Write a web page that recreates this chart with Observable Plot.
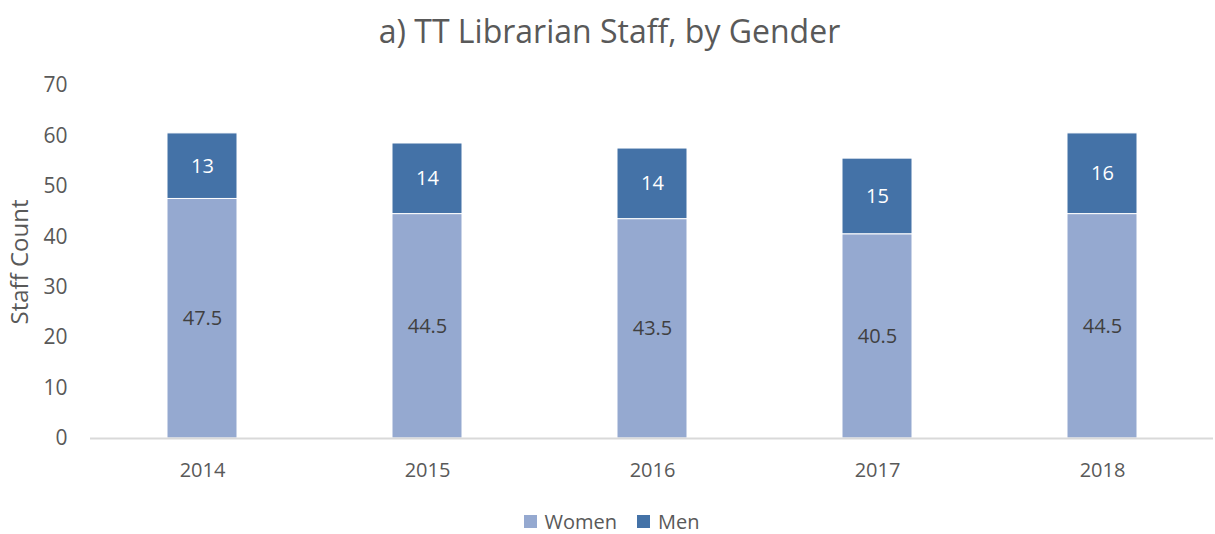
<!DOCTYPE html>
<html>
<head>
<meta charset="utf-8">
<script src="https://cdn.jsdelivr.net/npm/d3@7"></script>
<script src="https://cdn.jsdelivr.net/npm/@observablehq/plot@0.6"></script>
<style>
  html, body { margin: 0; padding: 0; background: #fff; }
  body { width: 1215px; height: 534px; overflow: hidden; font-family: "Open Sans", sans-serif; }
  #title { height: 66px; text-align: center; font-size: 32px; color: #595959; line-height: 62px; padding-left: 4px; }
  #chart svg { display: block; }
  #legend { display: flex; justify-content: center; align-items: center; gap: 20px; font-size: 20px; color: #595959; margin-top: 22px; padding-left: 8px; }
  .item { display: flex; align-items: center; gap: 8px; }
  .sw { width: 13px; height: 13px; display: inline-block; }
</style>
</head>
<body>
<div id="title">a) TT Librarian Staff, by Gender</div>
<div id="chart"></div>
<div id="legend"></div>
<script>
// Tenure-track librarian headcount, split by gender
const years = ["2014", "2015", "2016", "2017", "2018"];
const women = [47.5, 44.5, 43.5, 40.5, 44.5];
const men = [13, 14, 14, 15, 16];
const series = ["Women", "Men"];
const colors = ["#95a9d0", "#4472a7"];
const yTicks = [0, 10, 20, 30, 40, 50, 60, 70];

const rows = years.flatMap((year, i) => [
  {year, gender: "Women", value: women[i]},
  {year, gender: "Men", value: men[i]}
]);

const stackOpts = {x: "year", y: "value", fill: "gender", order: series};

const chart = Plot.plot({
  width: 1215,
  height: 420,
  marginTop: 19,
  marginBottom: 48,
  marginLeft: 90,
  marginRight: 2,
  style: {fontFamily: "Open Sans, sans-serif", fontSize: "20px", color: "#595959", background: "white"},
  x: {domain: years, paddingInner: 0.69, paddingOuter: 0.34, label: null},
  y: {domain: [0, 70], label: null},
  color: {domain: series, range: colors},
  marks: [
    Plot.axisY({ticks: yTicks, tickSize: 0, tickPadding: 23, label: null, fontSize: 21}),
    Plot.axisX({tickSize: 0, tickPadding: 24, label: null, fontSize: 20}),
    Plot.barY(rows, {...stackOpts, stroke: "white", strokeWidth: 1}),
    Plot.ruleY([0], {stroke: "#d9d9d9", strokeWidth: 2}),
    Plot.text(rows, Plot.stackY({
      ...stackOpts,
      text: d => String(d.value),
      fill: d => d.gender === "Men" ? "#ffffff" : "#404040",
      fontSize: 20
    })),
    Plot.text(["Staff Count"], {frameAnchor: "left", textAnchor: "middle", dx: -70, rotate: -90, fontSize: 24, fill: "#595959"})
  ]
});
document.getElementById("chart").appendChild(chart);

const legend = document.getElementById("legend");
series.forEach((name, i) => {
  const item = document.createElement("span");
  item.className = "item";
  const sw = document.createElement("span");
  sw.className = "sw";
  sw.style.background = colors[i];
  item.appendChild(sw);
  item.appendChild(document.createTextNode(name));
  legend.appendChild(item);
});
</script>
</body>
</html>
